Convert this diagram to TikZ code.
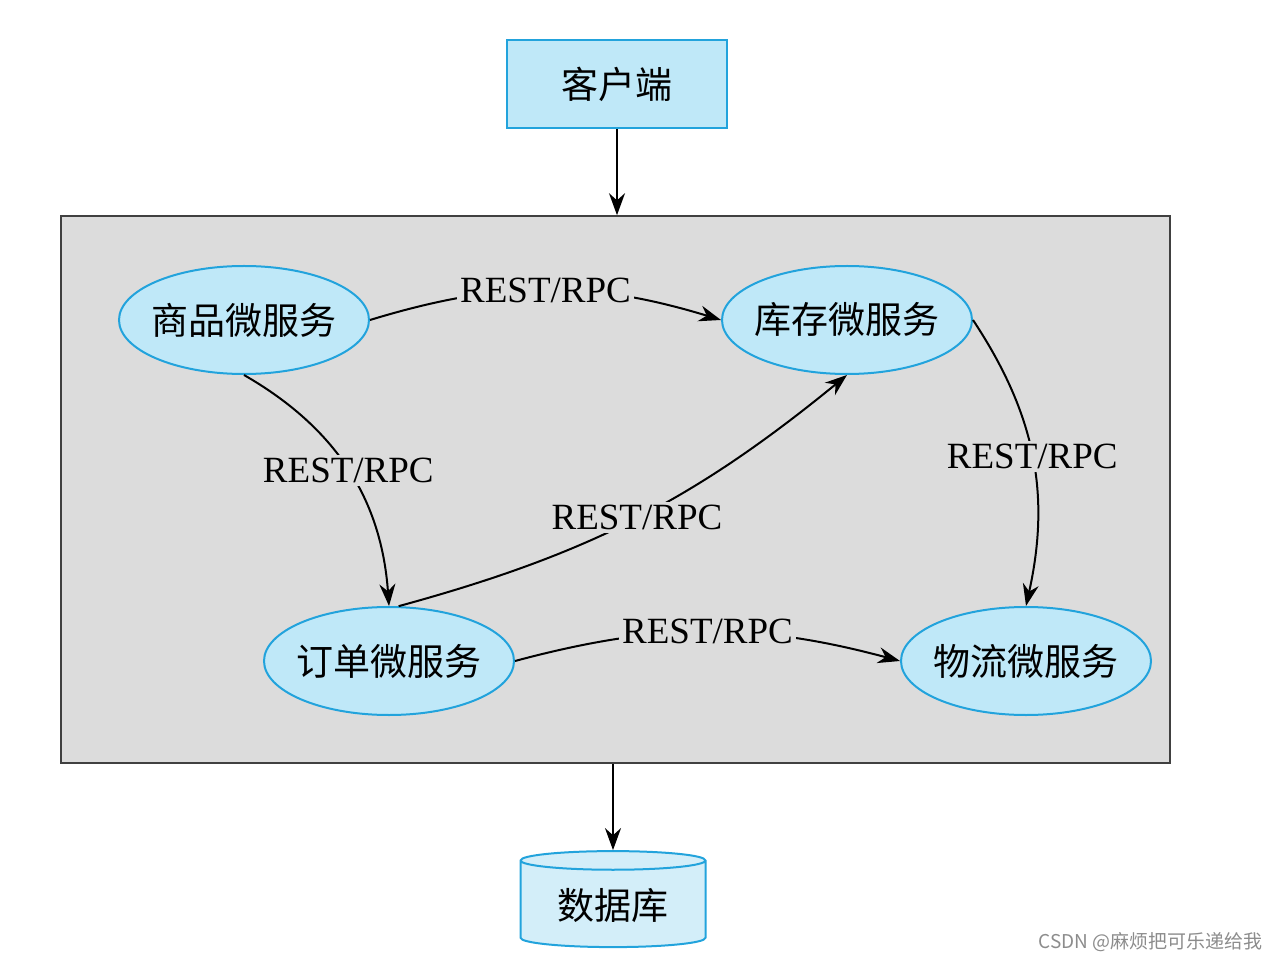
\documentclass[tikz,border=0pt]{standalone}
\usepackage{fontspec}
\setmainfont{Liberation Serif}
\newfontfamily\cjk{Noto Sans CJK SC}
\usetikzlibrary{arrows.meta, shapes.geometric, backgrounds}
\definecolor{cellblue}{HTML}{BFE8F8}
\definecolor{lineblue}{HTML}{22A3DC}
\definecolor{panelgray}{HTML}{DCDCDC}
\definecolor{dbblue}{HTML}{D3EEF9}
\tikzset{
    svc/.style={
        ellipse,
        draw=lineblue,
        fill=cellblue,
        line width=1pt,
        inner xsep=-4pt,
        inner ysep=0pt,
        minimum width=125pt,
        minimum height=54pt,
        font=\cjk\fontsize{18.5}{20}\selectfont
    },
    client/.style={
        rectangle,
        draw=lineblue,
        fill=cellblue,
        line width=1pt,
        minimum width=110pt,
        minimum height=44pt,
        font=\cjk\fontsize{18.5}{20}\selectfont
    },
    store/.style={
        cylinder,
        shape border rotate=90,
        aspect=0.15,
        draw=lineblue,
        fill=dbblue,
        line width=1pt,
        minimum width=92.5pt,
        minimum height=48pt,
        font=\cjk\fontsize{18.5}{20}\selectfont
    },
    call/.style={-{Stealth[length=11pt, width=8pt]}, line width=1pt},
    proto/.style={fill=panelgray, inner sep=1.5pt, font=\fontsize{18.5}{20}\selectfont}
}

\begin{document}
\begin{tikzpicture}[x=0.5pt, y=-0.5pt]
\useasboundingbox (0,0) rectangle (1285,962);
\node[client] (K) at (617,84) {客户端};
\node[draw=black!75, fill=panelgray, line width=0.8pt,
      minimum width=554.5pt, minimum height=273.5pt] (P) at (615.5,489.5) {};
\node[svc] (SP) at (244,320)  {商品微服务};
\node[svc] (KC) at (847,320)  {库存微服务};
\node[svc] (DD) at (389,661)  {订单微服务};
\node[svc] (WL) at (1026,661) {物流微服务};
\node[store] (DB) at (613,906) {数据库};
\node[anchor=east, text=black!45, font=\cjk\fontsize{9.5}{11}\selectfont] (W) at (1270,942) {CSDN @麻烦把可乐递给我};

\draw[call] (K.south) -- (K.south |- P.north);
\draw[call] (P.south -| DB.north) -- (DB.north);
\draw[call] (SP.east) to[bend left=17] node[proto] {REST/RPC} (KC.west);
\draw[call] (SP.south) to[bend left=28] node[proto] {REST/RPC} (DD.north);
\draw[call] (DD.80) to[bend right=12] node[proto] {REST/RPC} (KC.south);
\draw[call] (KC.east) to[bend left=23] node[proto] {REST/RPC} (WL.north);
\draw[call] (DD.east) to[bend left=15] node[proto] {REST/RPC} (WL.west);
\end{tikzpicture}
\end{document}
